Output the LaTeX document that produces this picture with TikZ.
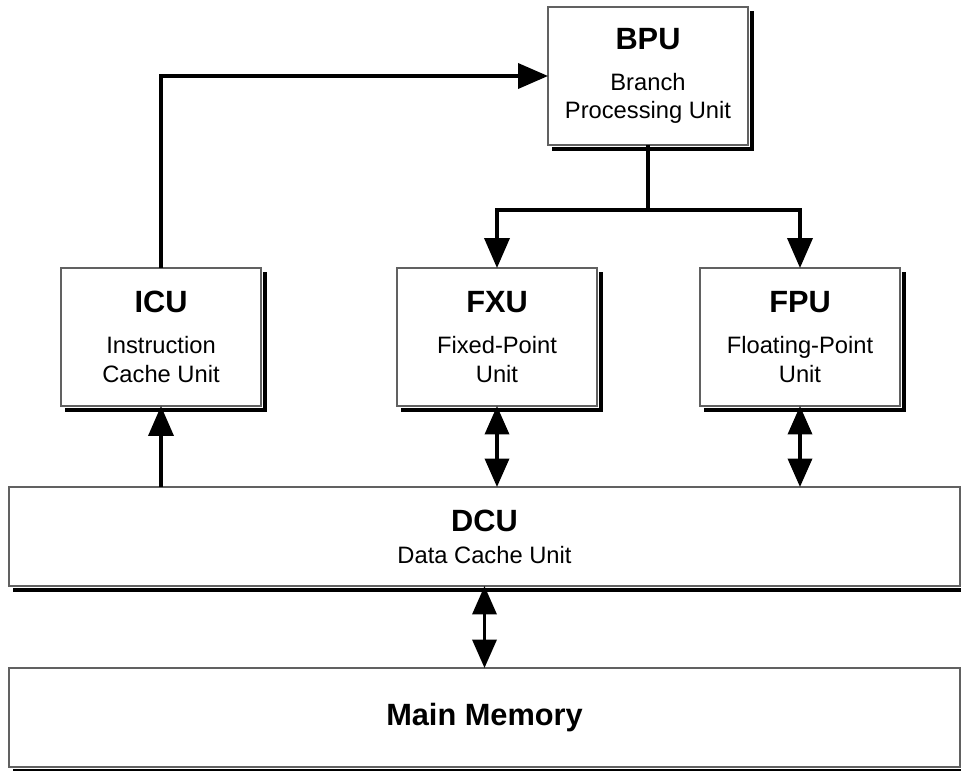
\documentclass[tikz,border=0pt]{standalone}
\usepackage{fontspec}
\setmainfont{Liberation Sans}
\usetikzlibrary{arrows.meta,calc}
\tikzset{
unit/.style={draw=black!62,line width=0.75pt,fill=white,outer sep=0pt,inner sep=0pt,minimum width=4cm,minimum height=2.76cm,align=center,font=\fontsize{13.5}{16.4}\selectfont},
wide/.style={unit,minimum width=19.02cm,minimum height=1.98cm},
dropline/.style={line width=1.9pt},
wire/.style={line width=2.1pt},
link/.style={wire,-{Triangle[length=0.6cm,width=0.5cm]}},
biglink/.style={wire,{Triangle[length=0.57cm,width=0.48cm]}-{Triangle[length=0.57cm,width=0.48cm]}}
}
\newcommand{\ttl}[1]{{\fontsize{17.5}{21}\selectfont\bfseries #1}}
\begin{document}
\begin{tikzpicture}[x=0.02cm,y=-0.02cm]
\path[use as bounding box,clip] (0,0) rectangle (961,771);
\node[unit] (bpu) at (648,76) {\ttl{BPU}\\[6.8pt]Branch\\Processing Unit};
\node[unit] (icu) at (161,337) {\ttl{ICU}\\[6.8pt]Instruction\\Cache Unit};
\node[unit] (fxu) at (497,337) {\ttl{FXU}\\[6.8pt]Fixed-Point\\Unit};
\node[unit] (fpu) at (800,337) {\ttl{FPU}\\[6.8pt]Floating-Point\\Unit};
\node[wide] (dcu) at (484.5,536.5) {\ttl{DCU}\\[1.8pt]Data Cache Unit};
\node[wide] (mm) at (484.5,717.5) {\ttl{Main Memory}};
\foreach \n in {bpu,icu,fxu,fpu,dcu,mm} \draw[dropline] ([shift={(4,4)}]\n.north east) -- ([shift={(4,4)}]\n.south east) -- ([shift={(4,4)}]\n.south west);
\coordinate (fork) at ($(bpu.south)+(0,65)$);
\draw[wire] (bpu.south) -- (fork);
\draw[link] (fork) -| (fxu.north); \draw[link] (fork) -| (fpu.north);
\draw[link] (icu.north) |- (bpu.west);
\draw[link] (icu.south |- dcu.north) -- (icu.south);
\draw[biglink] (fxu.south) -- (fxu.south |- dcu.north);
\draw[biglink] (fpu.south) -- (fpu.south |- dcu.north);
\draw[biglink] (dcu.south) -- (mm.north);
\end{tikzpicture}
\end{document}
